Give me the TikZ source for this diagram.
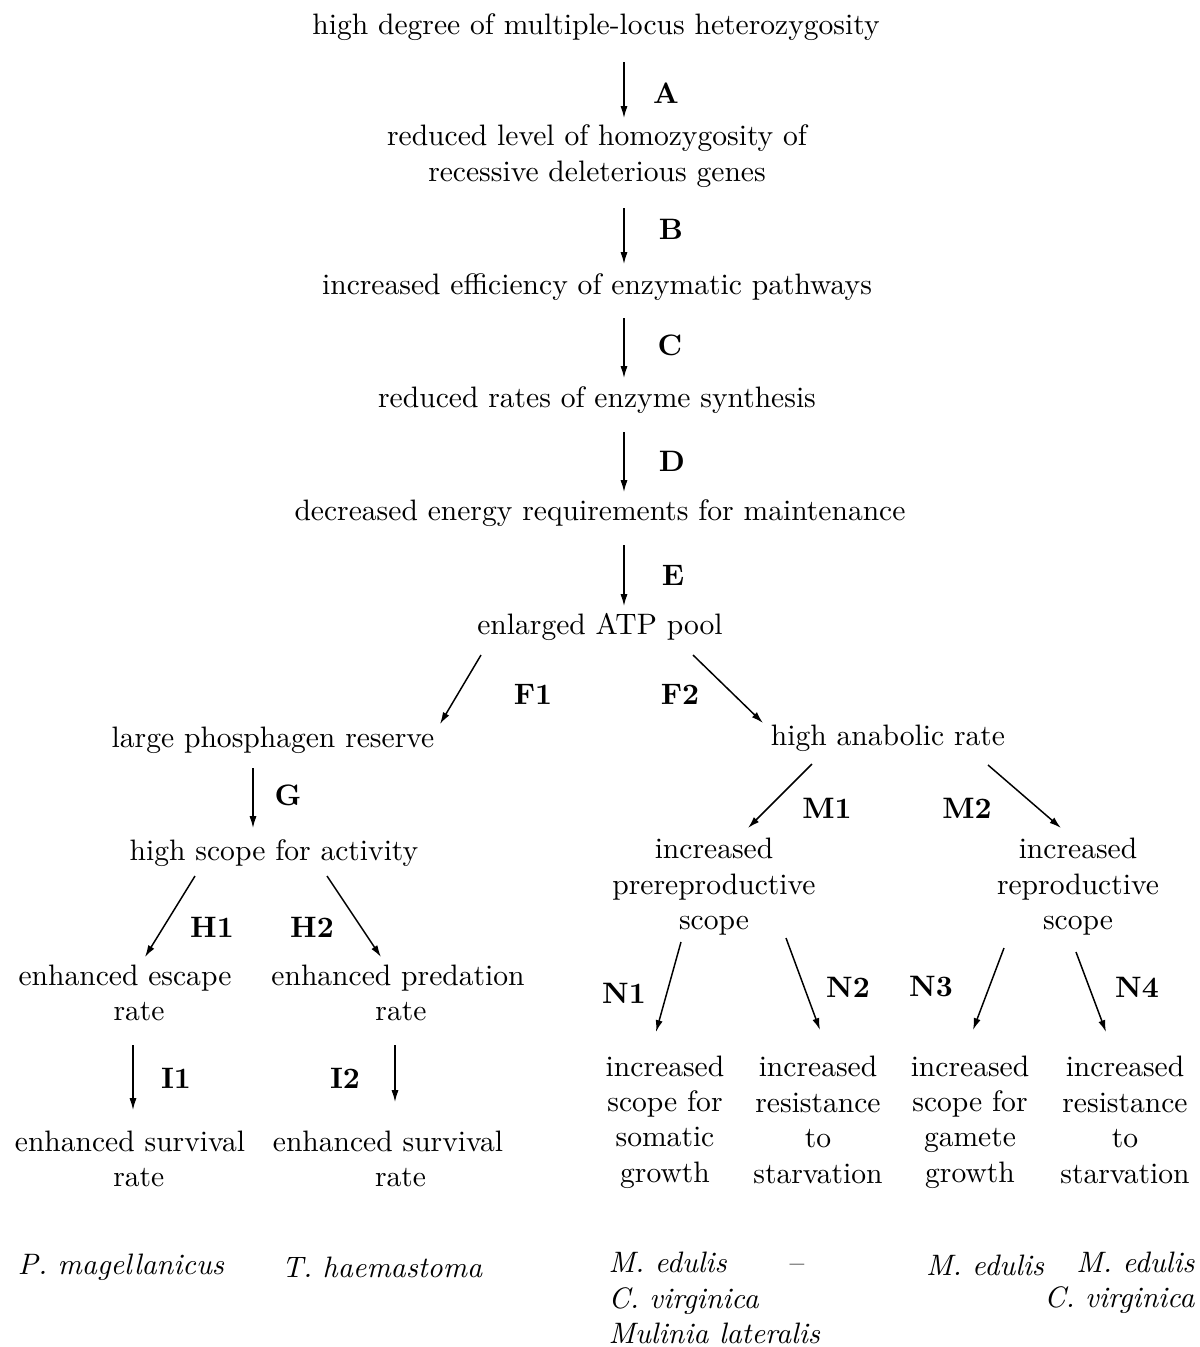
\documentclass[tikz,border=0pt]{standalone}
\usepackage{amsmath}
\usepackage{color}
\usetikzlibrary{arrows.meta}

\begin{document}
\begin{tikzpicture}[x=0.01189cm,y=-0.01189cm,
	txt/.style={inner sep=0pt,align=center},
	lab/.style={inner sep=0pt,font=\bfseries},
	spec/.style={inner sep=0pt,font=\itshape},
	arr/.style={line width=0.5pt,-{Latex[length=4pt,width=2.4pt]}}]
			\useasboundingbox (0,0) rectangle (1200,1347);
			% main chain
			\node[txt] (top) at (596,27) {high degree of multiple-locus heterozygosity};
			\node[txt] (hom) at (597,156) {reduced level of homozygosity of\\recessive deleterious genes};
			\node[txt] (eff) at (597,287) {increased efficiency of enzymatic pathways};
			\node[txt] (syn) at (597,400) {reduced rates of enzyme synthesis};
			\node[txt] (maint) at (600,513) {decreased energy requirements for maintenance};
			\node[txt] (atp) at (600,627) {enlarged ATP pool};
			% left branch
			\node[txt] (phos) at (273,740) {large phosphagen reserve};
			\node[txt] (act) at (274,853) {high scope for activity};
			\node[txt] (esc) at (125,993) {enhanced escape\\\hspace*{9.5pt}rate};
			\node[txt] (pred) at (398,993) {enhanced predation\\\hspace*{2pt}rate};
			\node[txt] (surv1) at (130,1159) {enhanced survival\\\hspace*{6pt}rate};
			\node[txt] (surv2) at (388,1159) {enhanced survival\\\hspace*{8.5pt}rate};
			% right branch
			\node[txt] (anab) at (888,738) {high anabolic rate};
			\node[txt] (prerep) at (714,887) {increased\\prereproductive\\scope};
			\node[txt] (rep) at (1078,887) {increased\\reproductive\\scope};
			\node[txt] (som) at (665,1122) {increased\\scope for\\somatic\\growth};
			\node[txt] (res1) at (818,1120) {increased\\resistance\\to\\starvation};
			\node[txt] (gam) at (970,1122) {increased\\scope for\\gamete\\growth};
			\node[txt] (res2) at (1125,1120) {increased\\resistance\\to\\starvation};
			% species
			\node[spec] (pmag) at (121,1267) {P.~magellanicus};
			\node[spec] (thaem) at (382,1267) {T.~haemastoma};
			\node[spec,align=left,anchor=west] (spA) at (608,1298) {M.~edulis\\C.~virginica\\Mulinia lateralis};
			\node[inner sep=0pt] (spB) at (797,1268) {--};
			\node[spec] (spC) at (985,1265) {M.~edulis};
			\node[spec,align=right,anchor=east] (spD) at (1195,1283) {M.~edulis\\C.~virginica};
			% arrows
			\draw[arr] ([shift={(28,35)}]top.center) -- ([shift={(27,-38)}]hom.center);
			\draw[arr] ([shift={(27,52)}]hom.center) -- ([shift={(27,-23)}]eff.center);
			\draw[arr] ([shift={(27,31)}]eff.center) -- ([shift={(27,-22)}]syn.center);
			\draw[arr] ([shift={(27,32)}]syn.center) -- ([shift={(24,-21)}]maint.center);
			\draw[arr] ([shift={(24,32)}]maint.center) -- ([shift={(24,-21)}]atp.center);
			\draw[arr] ([shift={(-119,28)}]atp.center) -- ([shift={(167,-16)}]phos.center);
			\draw[arr] ([shift={(93,28)}]atp.center) -- ([shift={(-125,-15)}]anab.center);
			\draw[arr] ([shift={(-20,28)}]phos.center) -- ([shift={(-21,-25)}]act.center);
			\draw[arr] ([shift={(-79,23)}]act.center) -- ([shift={(20,-36)}]esc.center);
			\draw[arr] ([shift={(53,23)}]act.center) -- ([shift={(-17,-36)}]pred.center);
			\draw[arr] ([shift={(8,52)}]esc.center) -- ([shift={(3,-49)}]surv1.center);
			\draw[arr] ([shift={(-3,52)}]pred.center) -- ([shift={(7,-57)}]surv2.center);
			\draw[arr] ([shift={(-76,26)}]anab.center) -- ([shift={(34,-59)}]prerep.center);
			\draw[arr] ([shift={(100,27)}]anab.center) -- ([shift={(-17,-59)}]rep.center);
			\draw[arr] ([shift={(-33,55)}]prerep.center) -- ([shift={(-9,-90)}]som.center);
			\draw[arr] ([shift={(72,51)}]prerep.center) -- ([shift={(2,-90)}]res1.center);
			\draw[arr] ([shift={(-74,61)}]rep.center) -- ([shift={(3,-92)}]gam.center);
			\draw[arr] ([shift={(-2,65)}]rep.center) -- ([shift={(-19,-88)}]res2.center);
			% labels
			\node[lab] (lA) at (666,93) {A};
			\node[lab] (lB) at (671,229) {B};
			\node[lab] (lC) at (670,345) {C};
			\node[lab] (lD) at (672,461) {D};
			\node[lab] (lE) at (673,575) {E};
			\node[lab] (lF1) at (533,694) {F1};
			\node[lab] (lF2) at (680,694) {F2};
			\node[lab] (lG) at (288,795) {G};
			\node[lab] (lH1) at (212,927) {H1};
			\node[lab] (lH2) at (312,927) {H2};
			\node[lab] (lI1) at (176,1078) {I1};
			\node[lab] (lI2) at (345,1078) {I2};
			\node[lab] (lM1) at (827,808) {M1};
			\node[lab] (lM2) at (967,808) {M2};
			\node[lab] (lN1) at (624,993) {N1};
			\node[lab] (lN2) at (848,987) {N2};
			\node[lab] (lN3) at (931,987) {N3};
			\node[lab] (lN4) at (1137,987) {N4};
		\end{tikzpicture}
\end{document}
